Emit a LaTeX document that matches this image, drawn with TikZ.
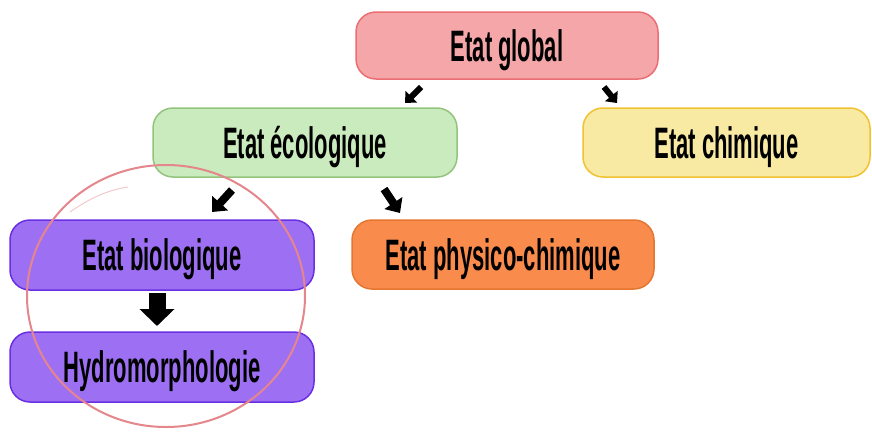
\documentclass[tikz,border=0pt]{standalone}
\usepackage{fontspec}
\usetikzlibrary{arrows.meta}
\newfontfamily\labelfont{Liberation Sans}[FakeStretch=0.5]

\definecolor{globfill}{HTML}{F5A6A9}
\definecolor{globline}{HTML}{EA6E72}
\definecolor{ecofill}{HTML}{C9EBBD}
\definecolor{ecoline}{HTML}{93C47D}
\definecolor{chimfill}{HTML}{F8E9A3}
\definecolor{chimline}{HTML}{F1C232}
\definecolor{biofill}{HTML}{9D70F3}
\definecolor{bioline}{HTML}{6A2FE3}
\definecolor{physfill}{HTML}{F98C4C}
\definecolor{physline}{HTML}{E4762F}
\definecolor{ringcol}{HTML}{E5868C}

\tikzset{
  statebox/.style={draw, line width=1.5pt, rounded corners=20pt,
    align=center, inner sep=0pt,
    font=\labelfont\bfseries\fontsize{44}{52}\selectfont,
    text height=31.5pt, text depth=0pt},
  arrowsmall/.style={line width=6pt, -{Triangle[width=16pt,length=9pt]}},
  arrowmid/.style={line width=8pt, -{Triangle[width=21pt,length=12pt]}},
  arrowbig/.style={line width=17pt, -{Triangle[width=34pt,length=17pt]}},
  ring/.style={draw=ringcol, line width=2pt},
}

\begin{document}
\begin{tikzpicture}[x=1pt, y=-1pt]
  \fill[white] (0,0) rectangle (872,434);
  \useasboundingbox (0,0) rectangle (872,434);

  % state boxes
  \node[statebox, fill=globfill, draw=globline, minimum width=302pt, minimum height=67pt]
    (glob) at (507,45.5) {Etat global};
  \node[statebox, fill=ecofill, draw=ecoline, minimum width=304pt, minimum height=69pt]
    (eco) at (305,142.5) {Etat écologique};
  \node[statebox, fill=chimfill, draw=chimline, minimum width=287pt, minimum height=69pt]
    (chim) at (726.5,142.5) {Etat chimique};
  \node[statebox, fill=biofill, draw=bioline, minimum width=304pt, minimum height=70pt]
    (bio) at (162,255) {Etat biologique};
  \node[statebox, fill=physfill, draw=physline, minimum width=302pt, minimum height=69pt]
    (phys) at (503,254.5) {Etat physico-chimique};
  \node[statebox, fill=biofill, draw=bioline, minimum width=304pt, minimum height=70pt]
    (hydro) at (162,367) {Hydromorphologie};

  % block arrows between levels
  \coordinate (ga) at (421,87);  \coordinate (gb) at (405,103);
  \coordinate (gc) at (604,87);  \coordinate (gd) at (617,103);
  \coordinate (ea) at (232,190); \coordinate (eb) at (212,212);
  \coordinate (ec) at (384,189); \coordinate (ed) at (400,213);
  \coordinate (ba) at (157,293); \coordinate (bb) at (157,326);
  \draw[arrowsmall] (ga) -- (gb);
  \draw[arrowsmall] (gc) -- (gd);
  \draw[arrowmid] (ea) -- (eb);
  \draw[arrowmid] (ec) -- (ed);
  \draw[arrowbig] (ba) -- (bb);

  % hand-drawn ring round the biological part
  \draw[ring] (166,296) ellipse [x radius=139, y radius=131];
  \draw[ringcol, line width=1pt, opacity=0.45] (70,212) .. controls (90,198) and (108,190) .. (128,187);
\end{tikzpicture}
\end{document}
